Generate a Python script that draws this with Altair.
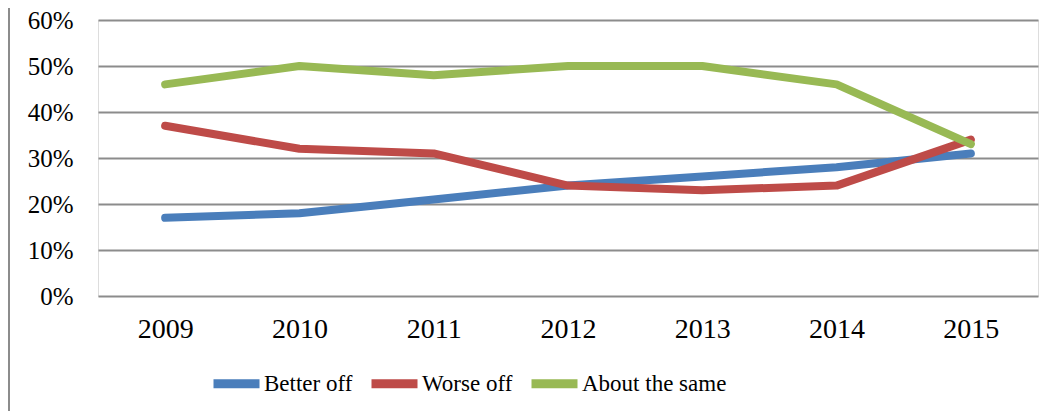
import altair as alt
import pandas as pd

years = ["2009", "2010", "2011", "2012", "2013", "2014", "2015"]
better_off = [17, 18, 21, 24, 26, 28, 31]
worse_off = [37, 32, 31, 24, 23, 24, 34]
about_same = [46, 50, 48, 50, 50, 46, 33]
series_names = ["Better off", "Worse off", "About the same"]
series_colors = ["#4A7EBB", "#BE4B48", "#98B954"]

rows = []
for name, vals in zip(series_names, [better_off, worse_off, about_same]):
    for y, v in zip(years, vals):
        rows.append({"Year": y, "Value": v / 100, "Series": name})
df = pd.DataFrame(rows)

FONT = "Liberation Serif"

lines = alt.Chart(df).mark_line(
    strokeWidth=8, strokeCap="round", strokeJoin="round"
).encode(
    x=alt.X("Year:O", sort=years,
            scale=alt.Scale(type="point", padding=0.5),
            axis=alt.Axis(title=None, labelAngle=0, domain=False, ticks=False,
                          grid=False, labelPadding=19, labelFontSize=28,
                          labelFont=FONT, labelColor="#000")),
    y=alt.Y("Value:Q", scale=alt.Scale(domain=[0, 0.6]),
            axis=alt.Axis(title=None, format=".0%", values=[0, .1, .2, .3, .4, .5, .6],
                          domain=False, ticks=False, grid=True, gridColor="#8c8c8c",
                          gridWidth=2, labelPadding=25, labelFontSize=25,
                          labelFont=FONT, labelColor="#000")),
    color=alt.Color("Series:N",
                    scale=alt.Scale(domain=series_names, range=series_colors),
                    legend=alt.Legend(title=None, orient="none", direction="horizontal",
                                      legendX=111, legendY=336,
                                      symbolType="stroke", symbolSize=2116,
                                      symbolStrokeWidth=9, labelFont=FONT,
                                      labelFontSize=23, labelColor="#000",
                                      labelOffset=0, columnPadding=0)),
    order=alt.value(0),
)

border = alt.Chart(pd.DataFrame({"a": [0]})).mark_rule(
    color="#8c8c8c", strokeWidth=2
).encode(x=alt.value(-89), y=alt.value(-12), y2=alt.value(391))

chart = alt.layer(border, lines).properties(
    width=940, height=276,
    autosize=alt.AutoSizeParams(type="none"),
    padding={"left": 90, "top": 12, "right": 3, "bottom": 115},
).configure_view(stroke=None).configure(background="white")

chart.save("out.html", embed_options={"renderer": "svg", "actions": False})
